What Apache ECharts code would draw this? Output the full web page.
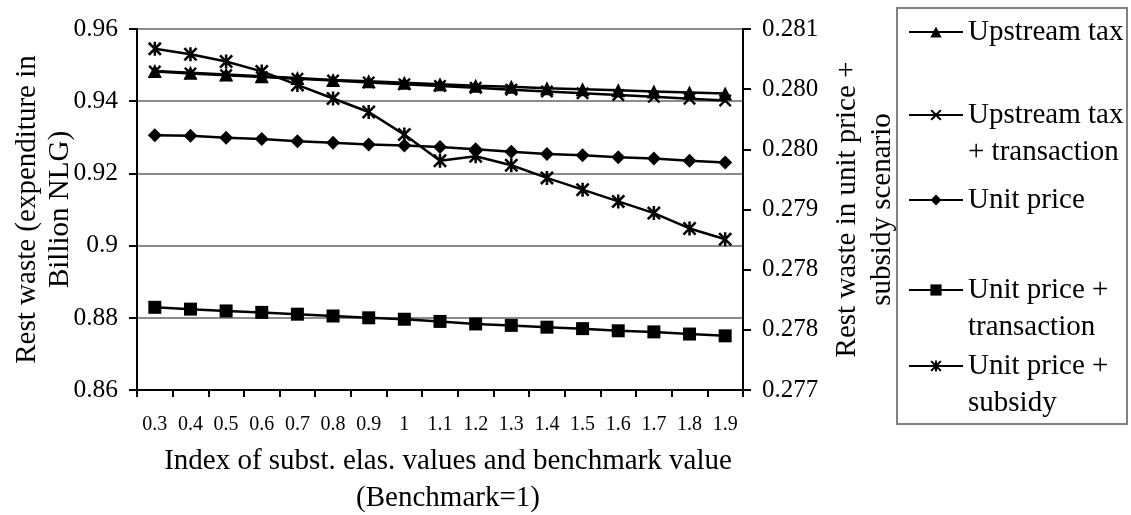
<!DOCTYPE html>
<html>
<head>
<meta charset="utf-8">
<script src="https://cdn.jsdelivr.net/npm/echarts@6/dist/echarts.min.js"></script>
<style>
html, body { margin: 0; padding: 0; background: #ffffff; }
#chart { width: 1131px; height: 515px; }
</style>
</head>
<body>
<div id="chart"></div>
<script>
// Index of substitution elasticity values (benchmark = 1)
const categories = ['0.3', '0.4', '0.5', '0.6', '0.7', '0.8', '0.9', '1', '1.1',
                    '1.2', '1.3', '1.4', '1.5', '1.6', '1.7', '1.8', '1.9'];

// Rest waste, expenditure in billion NLG (left axis)
const upstreamTax = [0.9484, 0.9479, 0.9474, 0.9469, 0.9464, 0.9459, 0.9455, 0.9451, 0.9447,
                     0.9443, 0.9440, 0.9436, 0.9433, 0.9430, 0.9427, 0.9424, 0.9421];
const upstreamTaxTransaction = [0.9482, 0.9477, 0.9472, 0.9467, 0.9462, 0.9457, 0.9452, 0.9447, 0.9442,
                                0.9437, 0.9432, 0.9427, 0.9422, 0.9417, 0.9412, 0.9407, 0.9402];
const unitPrice = [0.9306, 0.9304, 0.9299, 0.9295, 0.9289, 0.9285, 0.9280, 0.9277, 0.9273,
                   0.9267, 0.9260, 0.9254, 0.9250, 0.9245, 0.9241, 0.9235, 0.9230];
const unitPriceTransaction = [0.8829, 0.8824, 0.8819, 0.8815, 0.8810, 0.8805, 0.8800, 0.8796, 0.8790,
                              0.8783, 0.8779, 0.8774, 0.8770, 0.8764, 0.8761, 0.8755, 0.8750];

// Rest waste in the unit price + subsidy scenario (right axis)
const unitPriceSubsidy = [0.28078, 0.28072, 0.28064, 0.28053, 0.28038, 0.28023, 0.28008, 0.27983, 0.27954,
                          0.27959, 0.27949, 0.27935, 0.27922, 0.27909, 0.27896, 0.27879, 0.27867];

const seriesNames = ['Upstream tax', 'Upstream tax + transaction', 'Unit price',
                     'Unit price + transaction', 'Unit price + subsidy'];
const legendLabels = ['Upstream tax', 'Upstream tax\n+ transaction', 'Unit price',
                      'Unit price +\ntransaction', 'Unit price +\nsubsidy'];

const leftAxis = { min: 0.86, max: 0.96, interval: 0.02 };
const rightAxis = { min: 0.277, max: 0.281, interval: 0.0006667 };

const FONT = "'Liberation Serif', 'Times New Roman', serif";
const SYM_CROSS = 'path://M0,1.3L1.3,0L5,3.7L8.7,0L10,1.3L6.3,5L10,8.7L8.7,10L5,6.3L1.3,10L0,8.7L3.7,5Z';
const SYM_STAR = 'path://M0,1.3L1.3,0L5,3.7L8.7,0L10,1.3L6.3,5L10,8.7L8.7,10L5,6.3L1.3,10L0,8.7L3.7,5Z M4.1,0L5.9,0L5.9,10L4.1,10Z';

const chart = echarts.init(document.getElementById('chart'), null, { renderer: 'canvas' });

function lineSeries(name, data, symbol, size, yAxisIndex) {
  return {
    name: name,
    type: 'line',
    data: data,
    yAxisIndex: yAxisIndex,
    symbol: symbol,
    symbolSize: size,
    showSymbol: true,
    showAllSymbol: true,
    lineStyle: { color: '#000', width: 2.5 },
    itemStyle: { color: '#000' },
    emphasis: { disabled: true }
  };
}

// One legend block per series; two-line labels get an empty leading line so the
// marker lines up with the first line of text
const LH = 37;
const legendCenters = [32, 115, 200, 290, 366];
const legends = seriesNames.map(function (name, i) {
  const lines = legendLabels[i].split('\n').length;
  const text = lines > 1 ? '\n' + legendLabels[i] : legendLabels[i];
  return {
    show: true,
    orient: 'vertical',
    left: 908,
    top: legendCenters[i] - LH / 2 - (lines - 1) * LH,
    padding: 0,
    itemGap: 0,
    itemWidth: 54,
    itemHeight: 14,
    selectedMode: false,
    formatter: function () { return text; },
    textStyle: { fontFamily: FONT, fontSize: 29, color: '#000', lineHeight: LH },
    data: [name]
  };
});

const axisTextStyle = { fontFamily: FONT, color: '#000' };

chart.setOption({
  animation: false,
  backgroundColor: '#ffffff',
  grid: { left: 137, right: 388, top: 29, bottom: 125, containLabel: false, outerBoundsMode: 'none' },
  legend: legends,
  graphic: [{
    type: 'rect',
    shape: { x: 897, y: 8, width: 230, height: 416 },
    style: { fill: 'none', stroke: '#808080', lineWidth: 2 },
    silent: true
  }],
  xAxis: {
    type: 'category',
    data: categories,
    boundaryGap: true,
    axisLine: { show: true, lineStyle: { color: '#000', width: 2 } },
    axisTick: { show: true, length: 7, inside: false, interval: 0, lineStyle: { color: '#000', width: 2 } },
    axisLabel: Object.assign({ interval: 0, fontSize: 20, margin: 25 }, axisTextStyle),
    splitLine: { show: false },
    name: 'Index of subst. elas. values and benchmark value\n(Benchmark=1)',
    nameLocation: 'middle',
    nameGap: 53,
    nameMoveOverlap: false,
    nameTextStyle: Object.assign({ fontSize: 29, lineHeight: 37, padding: [0, 0, 0, 16] }, axisTextStyle)
  },
  yAxis: [{
    type: 'value',
    position: 'left',
    min: leftAxis.min,
    max: leftAxis.max,
    interval: leftAxis.interval,
    axisLine: { show: true, lineStyle: { color: '#000', width: 2 } },
    axisTick: { show: true, length: 8, inside: false, lineStyle: { color: '#000', width: 2 } },
    axisLabel: Object.assign({ fontSize: 25.5, margin: 19 }, axisTextStyle),
    splitLine: { show: true, lineStyle: { color: '#8c8c8c', width: 2 } },
    name: 'Rest waste (expenditure in\nBillion NLG)',
    nameLocation: 'middle',
    nameGap: 60,
    nameMoveOverlap: false,
    nameTextStyle: Object.assign({ fontSize: 29, lineHeight: 33 }, axisTextStyle)
  }, {
    type: 'value',
    position: 'right',
    min: rightAxis.min,
    max: rightAxis.max,
    interval: rightAxis.interval,
    axisLine: { show: true, lineStyle: { color: '#000', width: 2 } },
    axisTick: { show: true, length: 8, inside: false, lineStyle: { color: '#000', width: 2 } },
    axisLabel: Object.assign({
      fontSize: 25, margin: 19,
      formatter: function (v) { return v.toFixed(3); }
    }, axisTextStyle),
    splitLine: { show: false },
    name: 'Rest waste in unit price +\nsubsidy scenario',
    nameLocation: 'middle',
    nameGap: 87,
    nameMoveOverlap: false,
    nameTextStyle: Object.assign({ fontSize: 29, lineHeight: 35 }, axisTextStyle)
  }],
  series: [
    lineSeries(seriesNames[0], upstreamTax, 'triangle', 14, 0),
    lineSeries(seriesNames[1], upstreamTaxTransaction, SYM_CROSS, 13, 0),
    lineSeries(seriesNames[2], unitPrice, 'diamond', 14, 0),
    lineSeries(seriesNames[3], unitPriceTransaction, 'rect', 13, 0),
    lineSeries(seriesNames[4], unitPriceSubsidy, SYM_STAR, 14, 1)
  ]
});
</script>
</body>
</html>
